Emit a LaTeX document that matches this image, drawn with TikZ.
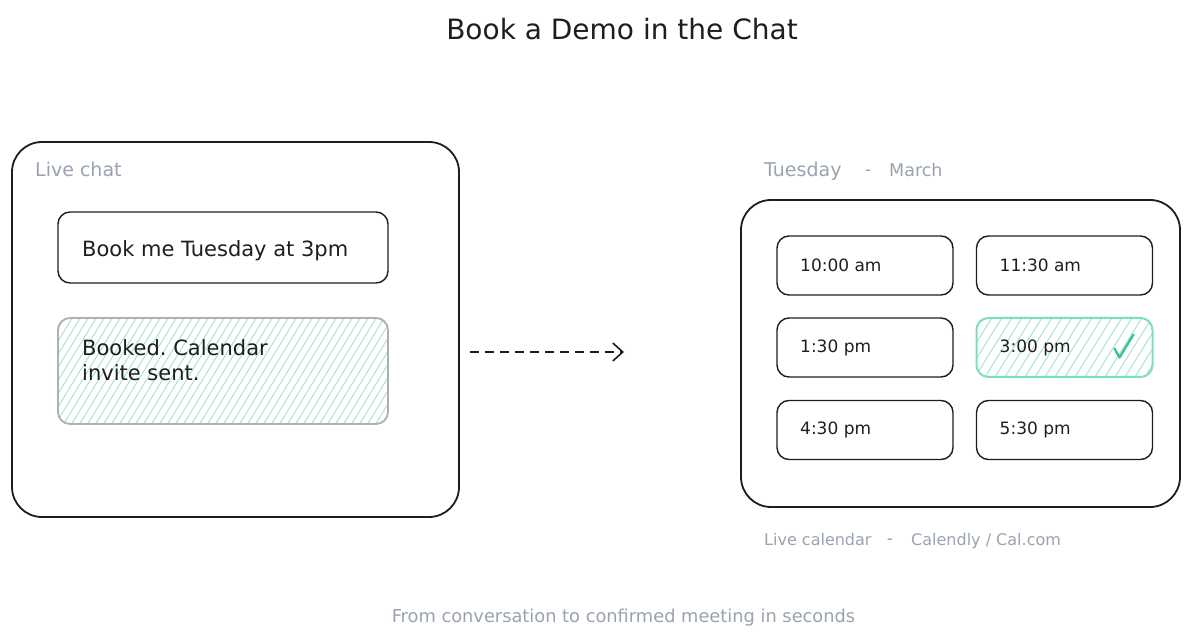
\documentclass[tikz,border=0pt]{standalone}
\usepackage{fontspec}
\setmainfont{DejaVu Sans}
\frenchspacing
\usetikzlibrary{arrows.meta}
\definecolor{ink}{HTML}{1E1E1E}
\definecolor{muted}{HTML}{9AA3AF}
\definecolor{mint}{HTML}{7EDFBC}
\definecolor{hatchc}{HTML}{9FE3C9}
\definecolor{softgray}{HTML}{AFAFAF}
\definecolor{checkgreen}{HTML}{2FC48B}
\tikzset{
  frame/.style={draw=ink, line width=1.8pt, rounded corners=30pt, minimum width=#1, inner sep=0pt, outer sep=0pt},
  bubble/.style={draw=ink, line width=1.4pt, rounded corners=12pt, inner sep=0pt, outer sep=0pt},
  slot/.style={draw=ink, line width=1.4pt, rounded corners=12pt, minimum width=176pt, minimum height=59pt, inner sep=0pt, outer sep=0pt},
  hatchline/.style={draw=hatchc, line width=0.9pt},
  lbl/.style={text=ink, inner sep=0pt, anchor=west, font=\fontsize{21}{25}\selectfont, align=left},
  slottxt/.style={text=ink, inner sep=0pt, anchor=west, font=\fontsize{17}{20}\selectfont},
  note/.style={text=muted, inner sep=0pt, text height=12pt, text depth=3pt, font=\fontsize{#1}{20}\selectfont},
  note/.default=17.5,
  titletxt/.style={text=ink, inner sep=0pt, font=\fontsize{28}{32}\selectfont},
}
\begin{document}
\begin{tikzpicture}[x=1pt,y=-1pt]
\useasboundingbox[fill=white] (0,0) rectangle (1200,644);

% title
\node[titletxt] (title) at (622,29) {Book a Demo in the Chat};

% left panel
\node[frame=447pt, minimum height=375pt] (chat) at (235.5,329.5) {};
\node[note=19, anchor=west] (chatlbl) at (35,172) {Live chat};
\node[bubble, minimum width=330pt, minimum height=71pt] (req) at (223,247.5) {};
\node[lbl] (reqtxt) at ([xshift=24pt,yshift=-3pt]req.west) {Book me Tuesday at 3pm};

\begin{scope}
  \clip[rounded corners=12pt] (58,318) rectangle (388,424);
  \foreach \i in {0,...,55} { \draw[hatchline] (-20+\i*8,430) -- ++(70,-115); }
\end{scope}
\node[bubble, draw=softgray, line width=1.8pt, minimum width=330pt, minimum height=106pt] (booked) at (223,371) {};
\node[lbl, anchor=north west] (bookedtxt) at (82,339) {Booked. Calendar\\invite sent.};

% arrow
\coordinate (a1) at (470,352);
\coordinate (a2) at (624,352);
\draw[ink, line width=1.6pt, dash pattern=on 9pt off 6pt, -{Straight Barb[length=10pt,width=18pt,line width=1.6pt]}] (a1) -- (a2);

% right panel
\node[note=19, anchor=west] (day) at (764,172) {Tuesday};
\node[note] (dash1) at (868,171) {-};
\node[note, anchor=west] (month) at (889,172) {March};
\node[frame=439pt, minimum height=307pt] (cal) at (960.5,353.5) {};

\node[slot] (s1) at (865,265.5) {};
\node[slottxt] at ([xshift=23pt]s1.west) {10:00 am};
\node[slot] (s2) at (1064.5,265.5) {};
\node[slottxt] at ([xshift=23pt]s2.west) {11:30 am};
\node[slot] (s3) at (865,347.5) {};
\node[slottxt] at ([xshift=23pt]s3.west) {1:30 pm};

\begin{scope}
  \clip[rounded corners=12pt] (976,318) rectangle (1153,377);
  \foreach \i in {0,...,30} { \draw[hatchline] (930+\i*10,385) -- ++(50,-80); }
\end{scope}
\node[slot, draw=mint, line width=2pt] (s4) at (1064.5,347.5) {};
\node[slottxt] at ([xshift=23pt]s4.west) {3:00 pm};
\draw[checkgreen, line width=2.2pt, line cap=round, line join=round] ([xshift=-38pt,yshift=-1pt]s4.east) -- ([xshift=-33pt,yshift=-10pt]s4.east) -- ([xshift=-19pt,yshift=13pt]s4.east);

\node[slot] (s5) at (865,430) {};
\node[slottxt] at ([xshift=23pt]s5.west) {4:30 pm};
\node[slot] (s6) at (1064.5,430) {};
\node[slottxt] at ([xshift=23pt]s6.west) {5:30 pm};

\node[note=16, anchor=west] (callbl) at (764,541) {Live calendar};
\node[note] (dash2) at (890,540) {-};
\node[note=16, anchor=west] (provider) at (911,541) {Calendly / Cal.com};

% footer
\node[note=17.8] (footer) at (623.5,618) {From conversation to confirmed meeting in seconds};
\end{tikzpicture}
\end{document}
